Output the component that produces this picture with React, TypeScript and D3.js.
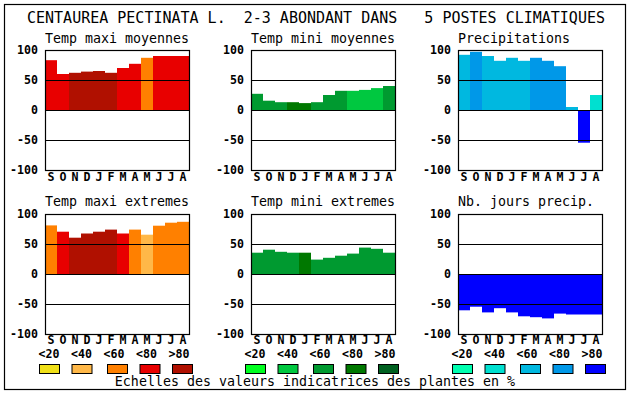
import React from 'react';
import * as d3 from 'd3';

// month labels, axis ticks, legend classes
const MONTHS = ['S', 'O', 'N', 'D', 'J', 'F', 'M', 'A', 'M', 'J', 'J', 'A'];
const TICKS = [100, 50, 0, -50, -100];
const GRID = [50, 0, -50];
const LEGEND_LABELS = ['<20', '<40', '<60', '<80', '>80'];

// colour scales (class 0..4)
const WARM = ['#f0e018', '#ffb848', '#ff8000', '#e80000', '#b01000'];
const GREEN = ['#00ff20', '#00c840', '#009a30', '#007800', '#006020'];
const BLUE = ['#00ffb0', '#00e0d0', '#00b8e0', '#0098e8', '#0000ff'];

// values, with class index per month
const maxiMoy = [83, 60, 62, 64, 65, 62, 70, 77, 87, 90, 90, 90];
const maxiMoyCls = [3, 3, 4, 4, 4, 4, 3, 3, 2, 3, 3, 3];

const miniMoy = [27, 15.5, 13, 13, 11.5, 13, 25, 32, 32, 33.5, 36.5, 40];
const miniMoyCls = [2, 2, 2, 3, 3, 2, 2, 2, 1, 1, 1, 2];

const precip = [92, 97, 90, 82, 87, 82, 87, 82, 73, 5, -54.5, 25];
const precipCls = [2, 3, 2, 2, 2, 2, 3, 3, 3, 2, 4, 1];

const maxiExt = [81, 70.5, 60.5, 67.5, 70.5, 74, 67.5, 74, 65.5, 80.5, 85.5, 87];
const maxiExtCls = [2, 3, 4, 4, 4, 4, 3, 2, 1, 2, 2, 2];

const miniExt = [35.5, 40.5, 37, 35.5, 35.5, 24, 27, 30.5, 34, 44, 42, 35.5];
const miniExtCls = [2, 2, 2, 2, 3, 2, 2, 2, 2, 2, 2, 2];

const joursPrecip = [-60.5, -54.5, -64, -57, -64, -70.5, -72, -74, -66, -67.5, -67.5, -67.5];
const joursPrecipCls = [4, 4, 4, 4, 4, 4, 4, 4, 4, 4, 4, 4];

const TITLE = 'CENTAUREA PECTINATA L.  2-3 ABONDANT DANS   5 POSTES CLIMATIQUES';
const FOOTER = 'Echelles des valeurs indicatrices des plantes en %';

const FONT = '"DejaVu Sans Mono", "Liberation Mono", monospace';

const COL_LEFT = [45, 251, 458];
const PLOT_W = 144;
const ROWS = [
  { top: 50, bottom: 170, titleY: 43, monthY: 181 },
  { top: 214, bottom: 334, titleY: 206, monthY: 344 },
];
const PALETTES = [WARM, GREEN, BLUE];

const panels = [
  { title: 'Temp maxi moyennes', values: maxiMoy, cls: maxiMoyCls, col: 0, row: 0 },
  { title: 'Temp mini moyennes', values: miniMoy, cls: miniMoyCls, col: 1, row: 0 },
  { title: 'Precipitations', values: precip, cls: precipCls, col: 2, row: 0 },
  { title: 'Temp maxi extremes', values: maxiExt, cls: maxiExtCls, col: 0, row: 1 },
  { title: 'Temp mini extremes', values: miniExt, cls: miniExtCls, col: 1, row: 1 },
  { title: 'Nb. jours precip.', values: joursPrecip, cls: joursPrecipCls, col: 2, row: 1 },
];

const Panel: React.FC<{ p: typeof panels[number] }> = ({ p }) => {
  const left = COL_LEFT[p.col];
  const row = ROWS[p.row];
  const palette = PALETTES[p.col];
  const x = d3.scaleBand<number>().domain(d3.range(12)).range([left, left + PLOT_W]).padding(0);
  const y = d3.scaleLinear().domain([-100, 100]).range([row.bottom, row.top]);
  const y0 = y(0);

  return (
    <g>
      <text x={left} y={row.titleY} fontSize={13.3} fontFamily={FONT}>{p.title}</text>
      {p.values.map((v, i) => (
        <rect key={i}
          x={x(i)} width={x.bandwidth()}
          y={Math.min(y(v), y0)} height={Math.abs(y(v) - y0)}
          fill={palette[p.cls[i]]} />
      ))}
      {GRID.map(g => (
        <line key={g} x1={left} x2={left + PLOT_W + 1} y1={Math.round(y(g)) + 0.5} y2={Math.round(y(g)) + 0.5}
          stroke="#000" strokeWidth={1.2} />
      ))}
      <rect x={left + 0.5} y={row.top + 0.5} width={PLOT_W} height={row.bottom - row.top}
        fill="none" stroke="#000" strokeWidth={1.2} />
      {TICKS.map(t => (
        <text key={t} x={left - 7} y={y(t) + 4} textAnchor="end" fontSize={11.6}
          fontWeight="bold" fontFamily={FONT}>{t}</text>
      ))}
      {MONTHS.map((m, i) => (
        <text key={i} x={x(i)! + x.bandwidth() / 2} y={row.monthY} textAnchor="middle"
          fontSize={11.6} fontWeight="bold" fontFamily={FONT}>{m}</text>
      ))}
    </g>
  );
};

const Legend: React.FC<{ col: number }> = ({ col }) => {
  const left = COL_LEFT[col];
  const lx = d3.scalePoint<string>().domain(LEGEND_LABELS).range([left + 4, left + 134]);
  return (
    <g>
      {LEGEND_LABELS.map((l, i) => (
        <g key={l}>
          <text x={lx(l)} y={358} textAnchor="middle" fontSize={11.6} fontWeight="bold"
            fontFamily={FONT}>{l}</text>
          <rect x={lx(l)! - 9.5 + (i > 1 ? 3 : 0)} y={364.5} width={20} height={9}
            fill={PALETTES[col][i]} stroke="#000" strokeWidth={1} />
        </g>
      ))}
    </g>
  );
};

export default function App() {
  return (
    <svg width={630} height={394} style={{ position: 'absolute', left: 0, top: 0, background: '#fff' }}>
      <rect x={0} y={0} width={630} height={394} fill="#fff" />
      <rect x={4.5} y={4.5} width={621} height={385} fill="none" stroke="#000" strokeWidth={1.2} />
      <text x={27} y={23} fontSize={15} fontFamily={FONT} style={{ whiteSpace: 'pre' }}>{TITLE}</text>
      {panels.map((p, i) => <Panel key={i} p={p} />)}
      {[0, 1, 2].map(c => <Legend key={c} col={c} />)}
      <text x={315} y={386} textAnchor="middle" fontSize={13.3} fontFamily={FONT}>{FOOTER}</text>
    </svg>
  );
}
